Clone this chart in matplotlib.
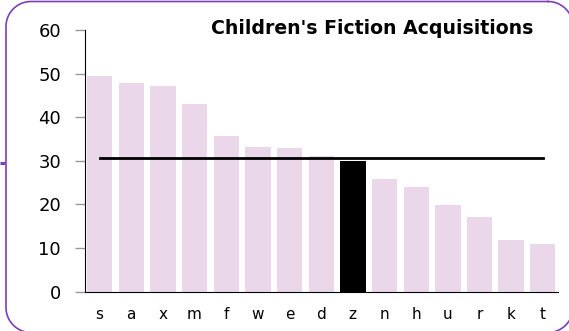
import matplotlib
matplotlib.use("Agg")
import matplotlib.pyplot as plt
import numpy as np

labels = ["s", "a", "x", "m", "f", "w", "e", "d", "z", "n", "h", "u", "r", "k", "t"]
values = [49.4, 47.8, 47.2, 43.1, 35.7, 33.1, 32.9, 31.1, 30.0, 25.8, 24.1, 19.9, 17.2, 11.9, 10.9]
highlight = "z"
average = 30.7
title = "Children's Fiction Acquisitions"

pink = "#EAD8EA"
purple = "#7B3FB5"

W, H = 569, 331


def rounded_rect(x0, y0, x1, y1, r, n=24):
    # outline of a rounded rectangle, y pointing down
    pts = []
    for cx, cy, a0 in [(x1 - r, y0 + r, -90), (x1 - r, y1 - r, 0),
                       (x0 + r, y1 - r, 90), (x0 + r, y0 + r, 180)]:
        t = np.radians(np.linspace(a0, a0 + 90, n))
        pts.append(np.column_stack([cx + r * np.cos(t), cy + r * np.sin(t)]))
    pts = np.vstack(pts)
    return np.vstack([pts, pts[:1]])


fig = plt.figure(figsize=(W / 100, H / 100), dpi=100)

# overlay in pixel units (y down) for the frame and its connector stub
bg = fig.add_axes([0, 0, 1, 1], zorder=-1)
bg.set_xlim(0, W)
bg.set_ylim(H, 0)
bg.axis("off")
outline = rounded_rect(6, 1.5, 573, 332.5, 25)
bg.plot(outline[:, 0], outline[:, 1], color=purple, linewidth=1.2, clip_on=False)
bg.plot([0, 5.5], [163, 163], color=purple, linewidth=2.2, solid_capstyle="butt")

ax = fig.add_axes([84.7 / W, 39.3 / H, (557.7 - 84.7) / W, (291.7 - 30) / H])
ax.patch.set_alpha(0)
x = list(range(len(labels)))
colors = ["black" if l == highlight else pink for l in labels]
ax.bar(x, values, width=0.8, color=colors, zorder=2)
ax.plot([x[0], x[-1]], [average, average], color="black", linewidth=2, zorder=3)

ax.set_xlim(-0.47, len(labels) - 0.53)
ax.set_ylim(0, 60)
ax.set_yticks(range(0, 61, 10))
ax.set_xticks(x)
ax.set_xticklabels(labels)

for side in ["top", "right"]:
    ax.spines[side].set_visible(False)
ax.spines["left"].set_color("black")
ax.spines["bottom"].set_color("black")
ax.spines["left"].set_zorder(4)
ax.spines["bottom"].set_zorder(4)

ax.tick_params(axis="y", length=7, width=1, color="#999999", pad=10, labelsize=13)
ax.tick_params(axis="x", length=0, pad=11, labelsize=11)

fig.text(533 / W, 1 - 29 / H, title, ha="right", va="center",
         fontsize=13.6, fontweight="bold")

fig.savefig("out.png", dpi=100)
